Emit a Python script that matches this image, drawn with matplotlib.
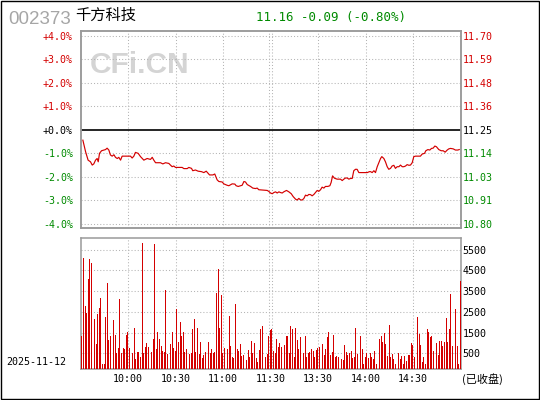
import numpy as np
import matplotlib
matplotlib.use("Agg")
import matplotlib.pyplot as plt
from matplotlib.patches import Rectangle

# ---------------- data ----------------
stock_code = "002373"
stock_name = "千方科技"
quote_text = "11.16 -0.09 (-0.80%)"
date_text = "2025-11-12"
status_text = "(已收盘)"
watermark = "CFi.CN"

pct_ticks = [4, 3, 2, 1, 0, -1, -2, -3, -4]
pct_labels = ["+4.0%", "+3.0%", "+2.0%", "+1.0%", "+0.0%", "-1.0%", "-2.0%", "-3.0%", "-4.0%"]
price_labels = ["11.70", "11.59", "11.48", "11.36", "11.25", "11.14", "11.03", "10.91", "10.80"]
time_ticks = [30, 60, 90, 120, 150, 180, 210]
time_labels = ["10:00", "10:30", "11:00", "11:30", "13:30", "14:00", "14:30"]
vol_ticks = [500, 1500, 2500, 3500, 4500, 5500]
vol_labels = ["500", "1500", "2500", "3500", "4500", "5500"]

# intraday line: trading minutes since 9:30 (lunch removed) and % change
line_t = [1.5, 3.2, 4.8, 6.3, 7.4, 8.4, 9.5, 10.5, 11.2, 12.0, 13.3, 14.7, 15.8, 16.8,
          17.9, 18.9, 20.0, 21.1, 22.1, 23.2, 24.2, 25.3, 26.3, 28.4, 31.6, 32.6, 33.7,
          34.7, 36.4, 37.9, 40.0, 42.1, 44.2, 45.3, 46.3, 47.4, 50.5, 52.0, 53.7, 55.8,
          56.8, 57.9, 58.9, 60.0, 64.2, 65.3, 67.4, 68.4, 70.1, 70.9, 72.6, 74.3, 76.4,
          77.9, 79.4, 80.6, 81.5, 83.6, 84.8, 86.3, 87.4, 89.5, 90.5, 92.6, 93.7, 95.8,
          97.5, 98.3, 99.6, 101.1, 102.1, 103.2, 104.2, 105.3, 107.4, 108.8, 110.5, 111.6,
          112.6, 115.8, 117.9, 118.9, 120.0, 121.1, 122.1, 123.2, 124.2, 125.3, 126.3,
          127.4, 128.4, 130.1, 131.6, 133.1, 134.3, 135.8, 136.8, 137.9, 138.9, 140.0,
          141.1, 142.1, 143.2, 144.2, 145.3, 146.3, 147.4, 148.4, 149.5, 150.5, 151.6,
          152.6, 153.7, 154.7, 156.2, 157.5, 158.3, 159.2, 160.4, 162.1, 164.2, 165.3,
          166.3, 167.4, 168.4, 169.5, 170.5, 171.6, 172.6, 173.7, 174.7, 175.8, 178.9,
          181.1, 182.5, 183.2, 184.2, 185.3, 186.3, 187.4, 188.4, 189.5, 190.3, 191.6,
          192.6, 193.7, 194.7, 195.8, 196.8, 197.9, 198.9, 200.0, 201.1, 202.1, 203.2,
          204.2, 205.3, 206.3, 207.4, 208.4, 209.5, 210.5, 211.6, 213.7, 214.7, 215.8,
          217.3, 218.1, 219.4, 220.6, 221.7, 222.7, 223.8, 224.8, 226.3, 227.8, 229.1,
          230.3, 231.6, 232.6, 233.7, 235.4, 236.8, 238.3, 239.2]
line_pct = [-0.45, -0.94, -1.30, -1.37, -1.51, -1.46, -1.30, -1.23, -1.37, -1.01, -0.90,
            -0.87, -0.85, -0.79, -0.87, -1.08, -1.13, -1.07, -1.18, -1.23, -1.18, -1.30,
            -1.13, -1.13, -1.13, -1.21, -1.13, -0.97, -1.01, -1.15, -1.30, -1.23, -1.27,
            -1.18, -1.30, -1.41, -1.41, -1.46, -1.41, -1.44, -1.51, -1.58, -1.55, -1.61,
            -1.61, -1.66, -1.66, -1.61, -1.65, -1.75, -1.72, -1.77, -1.79, -1.83, -1.77,
            -1.86, -1.93, -1.93, -1.89, -2.14, -2.21, -2.23, -2.31, -2.37, -2.39, -2.31,
            -2.32, -2.39, -2.42, -2.39, -2.37, -2.21, -2.23, -2.34, -2.42, -2.49, -2.51,
            -2.49, -2.56, -2.58, -2.59, -2.63, -2.70, -2.73, -2.68, -2.65, -2.70, -2.65,
            -2.68, -2.70, -2.65, -2.59, -2.65, -2.73, -2.85, -2.96, -3.00, -2.93, -2.99,
            -3.00, -2.93, -2.79, -2.82, -2.76, -2.77, -2.82, -2.76, -2.68, -2.59, -2.63,
            -2.56, -2.45, -2.49, -2.42, -2.42, -2.39, -2.25, -1.97, -2.07, -2.11, -2.11,
            -2.17, -2.11, -2.06, -2.06, -2.11, -2.08, -2.08, -1.75, -1.69, -1.69, -1.83,
            -1.83, -1.83, -1.79, -1.79, -1.83, -1.75, -1.83, -1.58, -1.41, -1.23, -1.15,
            -1.23, -1.37, -1.58, -1.69, -1.65, -1.55, -1.52, -1.65, -1.58, -1.58, -1.51,
            -1.58, -1.58, -1.55, -1.49, -1.52, -1.51, -1.41, -1.15, -1.13, -1.13, -1.13,
            -1.04, -1.01, -0.90, -0.85, -0.87, -0.80, -0.79, -0.70, -0.73, -0.85, -0.90,
            -0.90, -0.96, -0.87, -0.82, -0.80, -0.82, -0.87, -0.87, -0.85]

# per-minute volume (lots), 240 minutes
volumes = [
    1355, 5113, 2790, 2450, 4097, 5064, 4871, 2500, 2161, 952, 2403, 2694, 3177, 0, 0,
    2258, 3903, 1145, 1339, 565, 2113, 1387, 516, 758, 3129, 516, 758, 710, 1387, 1532,
    758, 323, 516, 1726, 226, 565, 565, 323, 5790, 516, 806, 1000, 806, 1774, 565, 1194,
    5742, 710, 1532,
    1194, 855, 613, 565, 3565, 468, 419, 952, 1532, 758, 613, 2645, 1048, 2016, 1339,
    1532, 565, 710, 2113, 468, 516, 1677, 2161, 565, 1726, 468, 1048, 274, 419, 565, 661,
    1048, 516, 710, 516, 565, 3419, 4581, 1726, 3323, 516, 758, 1629, 710, 2306, 855,
    323, 274,
    2887, 710, 613, 952, 371, 419, 516, 177, 661, 323, 1097, 516, 1000, 274, 81, 661,
    1677, 1823, 516, 323, 468, 1339, 1629, 1677, 613, 516, 1194, 806, 1000, 806, 661,
    903, 1339, 1339, 516, 1823, 1677, 323, 1726, 1145, 710, 1290, 516, 516, 1339, 323,
    516, 565,
    710, 613, 323, 661, 758, 806, 226, 952, 419, 710, 1290, 1532, 419, 565, 1387, 323,
    371, 323, 419, 226, 177, 903, 565, 419, 516, 613, 274, 323, 1726, 468, 0, 1339, 710,
    0, 323, 516, 274, 516, 323, 226, 613, 0, 1048, 1194, 1339, 1048, 1484, 952, 371,
    1871, 323, 468, 226, 0, 952, 516, 226, 371, 0, 371, 129, 419, 419, 1000, 903, 323,
    1387, 2258, 1435, 903, 81, 323, 0, 1677, 1532, 1290, 1339, 613, 2113, 1000, 419,
    1097, 1097, 855, 1048, 2210, 1048, 1677, 3371, 855, 2161, 2645, 855, 0, 4000]

# ---------------- style ----------------
RED = "#d40000"
GREEN = "#008a00"
GRID = "#b4b4b4"
SPINE = "#9a9a9a"
MONO = "DejaVu Sans Mono"
CJK = ["Noto Sans CJK SC", "DejaVu Sans"]

W, H = 540, 400
fig = plt.figure(figsize=(W / 100, H / 100), dpi=100)
fig.patch.set_facecolor("white")


def fx(px):
    return px / W


def fy(py):
    return 1 - py / H


def add_ax(x0, y0, x1, y1):
    return fig.add_axes([fx(x0), fy(y1), fx(x1) - fx(x0), (y1 - y0) / H])


grid_kw = dict(color=GRID, lw=0.75, dashes=(1.0, 2.0), zorder=1)
vlines = [30, 60, 90, 119.3, 120.7, 150, 180, 210]

# ---------- price panel ----------
ax = add_ax(80.5, 31, 460.5, 228)
ax.set_xlim(0, 240)
ax.set_ylim(-4.19, 4.2)
for v in pct_ticks:
    if v != 0:
        ax.axhline(v, **grid_kw)
for t in vlines:
    ax.axvline(t, **grid_kw)
ax.axhline(0, color="black", lw=1.2, zorder=2)
ax.plot(line_t, line_pct, color=RED, lw=0.85, zorder=3)
ax.text(0.155, 0.825, watermark, transform=ax.transAxes, ha="center", va="center",
        fontsize=21.5, fontweight="bold", family="Liberation Sans", color="#d4d4d4",
        zorder=0)

ax.set_yticks(pct_ticks)
ax.set_yticklabels(pct_labels, family=MONO, fontsize=7.2)
for lab, v in zip(ax.get_yticklabels(), pct_ticks):
    lab.set_color(RED if v > 0 else ("black" if v == 0 else GREEN))
ax.tick_params(axis="y", length=0, pad=5.5)
ax.set_xticks([])

ax2 = ax.twinx()
ax2.set_ylim(ax.get_ylim())
ax2.set_yticks(pct_ticks)
ax2.set_yticklabels(price_labels, family=MONO, fontsize=7.2)
for lab, v in zip(ax2.get_yticklabels(), pct_ticks):
    lab.set_color(RED if v > 0 else ("black" if v == 0 else GREEN))
ax2.tick_params(axis="y", length=0, pad=1.5)
for a in (ax, ax2):
    for s in a.spines.values():
        s.set_color(SPINE)
        s.set_linewidth(1.1)

# ---------- volume panel ----------
vbase = -260
vax = add_ax(80.5, 238.3, 460.5, 369.3)
vax.set_xlim(0, 240)
vax.set_ylim(vbase, 6040)
for v in vol_ticks:
    vax.axhline(v, **grid_kw)
for t in vlines:
    vax.axvline(t, **grid_kw)
vol = np.array(volumes, dtype=float)
vt = np.arange(len(vol)) + 0.9
vax.bar(vt, vol - vbase, bottom=vbase, width=0.6, color=RED, linewidth=0,
        antialiased=False, zorder=3)
vax.yaxis.tick_right()
vax.set_yticks(vol_ticks)
vax.set_yticklabels(vol_labels, family=MONO, fontsize=7.2)
vax.tick_params(axis="y", length=0, pad=1.5)
vax.set_xticks(time_ticks)
vax.set_xticklabels(time_labels, family=MONO, fontsize=7.2)
vax.tick_params(axis="x", length=0, pad=3.5)
for s in vax.spines.values():
    s.set_color(SPINE)
    s.set_linewidth(1.1)

# ---------- header / footer texts ----------
fig.text(fx(8), fy(24), stock_code, family="Liberation Sans", fontsize=13.5,
         color="#a6a6a6", ha="left", va="baseline")
fig.text(fx(75), fy(15.5), stock_name, family=CJK, fontsize=11, color="black",
         ha="left", va="center")
fig.text(fx(256), fy(21), quote_text, family=MONO, fontsize=9, color=GREEN,
         ha="left", va="baseline")
fig.text(fx(6.5), fy(362), date_text, family=MONO, fontsize=7.2, color="black",
         ha="left", va="center")
fig.text(fx(462), fy(379), status_text, family=CJK, fontsize=8, color="black",
         ha="left", va="center")

# outer frame
fig.patches.append(Rectangle((fx(0.5), fy(398.5)), fx(538), 398 / H, transform=fig.transFigure,
                             fill=False, edgecolor="black", linewidth=1.0))

fig.savefig("out.png", dpi=100)
